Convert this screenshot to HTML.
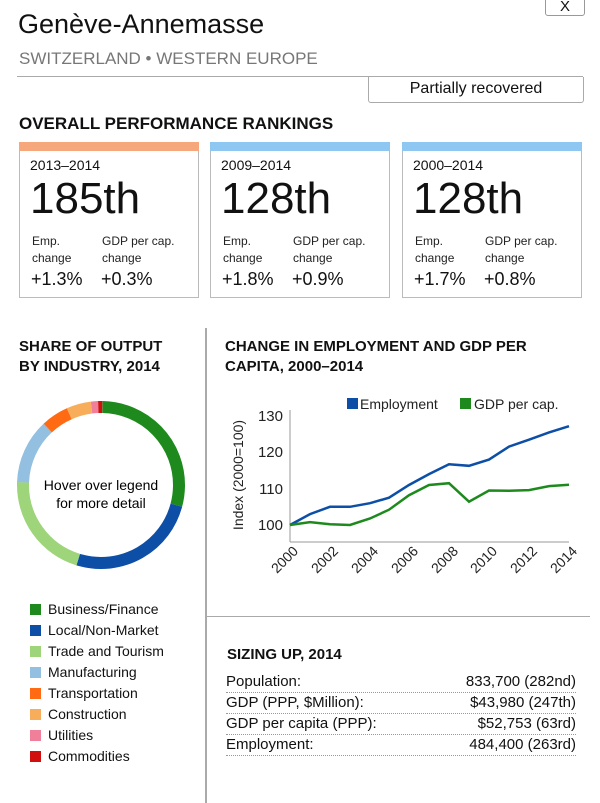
<!DOCTYPE html>
<html><head><meta charset="utf-8"><style>
body{margin:0;width:600px;height:803px;background:#fff;font-family:"Liberation Sans",sans-serif;color:#111;position:relative;overflow:hidden}
.a{position:absolute;white-space:nowrap}
.card{position:absolute;top:142px;width:180px;height:156px;border:1px solid #bbb;border-top:none;box-sizing:border-box}
.bar{position:absolute;left:-1px;right:-1px;top:0;height:9px}
.yr{position:absolute;left:10px;top:15px;font-size:14px}
.big{position:absolute;left:10px;top:32px;font-size:44px}
.lbl{position:absolute;top:91px;font-size:12px;line-height:17px;color:#222}
.val{position:absolute;top:127px;font-size:18px}
.h{font-weight:bold;font-size:15px}
.leg{position:absolute;left:48px;font-size:14px}
.leg i{position:absolute;left:-18px;top:3px;width:11px;height:11px}
.row{position:absolute;left:226px;width:350px;font-size:15px;border-bottom:1px dotted #999;height:19px}
.row span{position:absolute;right:0}
</style></head><body>
<div class="a" style="left:545px;top:-8px;width:38px;height:22px;border:1px solid #999;border-radius:3px;text-align:center;font-size:15px;line-height:28px">X</div>
<div class="a" style="left:18px;top:9px;font-size:27px">Genève-Annemasse</div>
<div class="a" style="left:19px;top:49px;font-size:17px;color:#777">SWITZERLAND • WESTERN EUROPE</div>
<div class="a" style="left:17px;top:76px;width:566px;border-top:1px solid #aaa"></div>
<div class="a" style="left:368px;top:77px;width:214px;height:25px;border:1px solid #aaa;border-top:none;border-radius:0 0 3px 3px"></div>
<div class="a" style="left:368px;top:80px;width:216px;text-align:center;font-size:16px">Partially recovered</div>
<div class="a h" style="left:19px;top:114px;font-size:17px">OVERALL PERFORMANCE RANKINGS</div>

<div class="card" style="left:19px"><div class="bar" style="background:#f7a77c"></div><div class="yr">2013–2014</div><div class="big">185th</div><div class="lbl" style="left:12px">Emp.<br>change</div><div class="lbl" style="left:82px">GDP per cap.<br>change</div><div class="val" style="left:11px">+1.3%</div><div class="val" style="left:81px">+0.3%</div></div>
<div class="card" style="left:210px"><div class="bar" style="background:#8ec8f2"></div><div class="yr">2009–2014</div><div class="big">128th</div><div class="lbl" style="left:12px">Emp.<br>change</div><div class="lbl" style="left:82px">GDP per cap.<br>change</div><div class="val" style="left:11px">+1.8%</div><div class="val" style="left:81px">+0.9%</div></div>
<div class="card" style="left:402px"><div class="bar" style="background:#8ec8f2"></div><div class="yr">2000–2014</div><div class="big">128th</div><div class="lbl" style="left:12px">Emp.<br>change</div><div class="lbl" style="left:82px">GDP per cap.<br>change</div><div class="val" style="left:11px">+1.7%</div><div class="val" style="left:81px">+0.8%</div></div>

<div class="a" style="left:205px;top:328px;height:475px;border-left:2px solid #aaa"></div>
<div class="a" style="left:207px;top:616px;width:383px;border-top:1px solid #aaa"></div>

<div class="a h" style="left:19px;top:337px;line-height:20px">SHARE OF OUTPUT<br>BY INDUSTRY, 2014</div>
<div class="a h" style="left:225px;top:337px;line-height:20px">CHANGE IN EMPLOYMENT AND GDP PER<br>CAPITA, 2000–2014</div>

<svg class="a" style="left:0;top:0" width="600" height="803">
<g transform="translate(101,485) rotate(-90)" fill="none" stroke-width="12">
<circle r="78" stroke="#1e8a1e" stroke-dasharray="141.6 1000" transform="rotate(1)"/>
<circle r="78" stroke="#0d4ea6" stroke-dasharray="125.2 1000" transform="rotate(105)"/>
<circle r="78" stroke="#9ed47a" stroke-dasharray="102.1 1000" transform="rotate(197)"/>
<circle r="78" stroke="#93bfe0" stroke-dasharray="61.3 1000" transform="rotate(272)"/>
<circle r="78" stroke="#ff6a12" stroke-dasharray="25.9 1000" transform="rotate(317)"/>
<circle r="78" stroke="#f7ad5a" stroke-dasharray="23.1 1000" transform="rotate(336)"/>
<circle r="78" stroke="#f0809a" stroke-dasharray="6.8 1000" transform="rotate(353)"/>
<circle r="78" stroke="#d10f0f" stroke-dasharray="4 1000" transform="rotate(358)"/>
</g>
<text x="101" y="490" font-size="14" text-anchor="middle" font-family="Liberation Sans">Hover over legend</text>
<text x="101" y="508" font-size="14" text-anchor="middle" font-family="Liberation Sans">for more detail</text>

<g font-family="Liberation Sans" font-size="14" fill="#222">
<rect x="347" y="398" width="11" height="11" fill="#0d4ea6"/><text x="360" y="409">Employment</text>
<rect x="460" y="398" width="11" height="11" fill="#1e8a1e"/><text x="474" y="409">GDP per cap.</text>
<g font-size="15">
<text x="283" y="421" text-anchor="end">130</text>
<text x="283" y="457" text-anchor="end">120</text>
<text x="283" y="494" text-anchor="end">110</text>
<text x="283" y="530" text-anchor="end">100</text>
</g>
<text transform="translate(243,475) rotate(-90)" text-anchor="middle" font-size="14">Index (2000=100)</text>
</g>
<line x1="290" y1="410" x2="290" y2="542" stroke="#999"/>
<line x1="290" y1="542" x2="569" y2="542" stroke="#999"/>
<g font-family="Liberation Sans" font-size="14" fill="#222" text-anchor="end">
<text transform="translate(299,552) rotate(-45)">2000</text>
<text transform="translate(339,552) rotate(-45)">2002</text>
<text transform="translate(379,552) rotate(-45)">2004</text>
<text transform="translate(419,552) rotate(-45)">2006</text>
<text transform="translate(459,552) rotate(-45)">2008</text>
<text transform="translate(498,552) rotate(-45)">2010</text>
<text transform="translate(538,552) rotate(-45)">2012</text>
<text transform="translate(578,552) rotate(-45)">2014</text>
</g>
<polyline fill="none" stroke="#0d4ea6" stroke-width="2.5" points="290,525 310,514.1 330,506.8 350,506.8 370,503.2 389,497.7 409,485 429,474.1 449,464.3 469,465.8 489,459.6 509,446.6 529,439.7 549,432.4 569,426.2"/>
<polyline fill="none" stroke="#1e8a1e" stroke-width="2.5" points="290,525 310,522.1 330,524.3 350,525 370,518.5 389,509.7 409,495.2 429,485 449,483.2 469,501.7 489,490.5 509,490.8 529,490.1 549,486.1 569,484.7"/>
</svg>

<div class="leg" style="top:601px"><i style="background:#1e8a1e"></i>Business/Finance</div>
<div class="leg" style="top:622px"><i style="background:#0d4ea6"></i>Local/Non-Market</div>
<div class="leg" style="top:643px"><i style="background:#9ed47a"></i>Trade and Tourism</div>
<div class="leg" style="top:664px"><i style="background:#93bfe0"></i>Manufacturing</div>
<div class="leg" style="top:685px"><i style="background:#ff6a12"></i>Transportation</div>
<div class="leg" style="top:706px"><i style="background:#f7ad5a"></i>Construction</div>
<div class="leg" style="top:727px"><i style="background:#f0809a"></i>Utilities</div>
<div class="leg" style="top:748px"><i style="background:#d10f0f"></i>Commodities</div>

<div class="a h" style="left:227px;top:646px">SIZING UP, 2014</div>
<div class="row" style="top:673px">Population:<span>833,700 (282nd)</span></div>
<div class="row" style="top:694px">GDP (PPP, $Million):<span>$43,980 (247th)</span></div>
<div class="row" style="top:715px">GDP per capita (PPP):<span>$52,753 (63rd)</span></div>
<div class="row" style="top:736px">Employment:<span>484,400 (263rd)</span></div>
</body></html>
